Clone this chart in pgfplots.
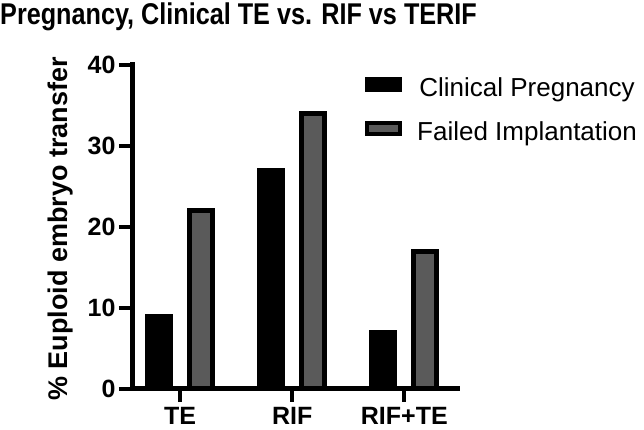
\documentclass[border=0pt]{standalone}
\usepackage{pgfplots}
\pgfplotsset{compat=1.18}
\usepackage{fontspec}
\setmainfont{Liberation Sans}
\definecolor{barGray}{HTML}{5A5A5A}
\begin{document}
\begin{tikzpicture}[x=1pt,y=1pt]
\path[use as bounding box] (0,0) rectangle (644,430);
\node[anchor=base west, inner sep=0pt] at (0,405) {\scalebox{0.84}[1]{\fontsize{30}{30}\selectfont\bfseries Pregnancy, Clinical TE vs. RIF vs TERIF}};
\begin{axis}[
  at={(132pt,41pt)}, anchor=south west,
  scale only axis, width=325pt, height=324pt,
  axis x line=bottom, axis y line=left,
  axis line style={-, line width=5pt, line cap=rect},
  xmin=-0.43, xmax=2.47, ymin=0, ymax=40,
  xtick={0,1,2}, xticklabels={TE,RIF,RIF+TE},
  ytick={0,10,20,30,40},
  major tick length=13pt,
  tick style={line width=4pt, black},
  tick align=outside,
  /pgf/number format/assume math mode=true,
  ticklabel style={font=\fontsize{25}{25}\selectfont\bfseries},
  xticklabel style={yshift=-2pt},
  yticklabel style={xshift=0pt},
  ylabel={\% Euploid embryo transfer},
  every axis y label/.style={at={(rel axis cs:0,0.5)}, xshift=-71pt, yshift=-2pt, rotate=90, anchor=center, font=\fontsize{27}{27}\selectfont\bfseries},
  ybar, bar width=23pt,
  legend style={draw=none, fill=none, inner sep=0pt, anchor=west,
     at={(rel axis cs:0.717,0.855)},
     nodes={inner sep=0pt, text height=19pt, text depth=6pt, font=\fontsize{26}{26}\selectfont},
     row sep=19pt,
     /tikz/every odd column/.style={column sep=15pt}},
  legend image code/.code={\draw[#1, line width=4pt] (2pt,0pt) rectangle (35pt,11pt);},
]
\addplot[fill=black, draw=black, line width=5pt, bar shift=-21pt] coordinates {(0,9) (1,27) (2,7)};
\addplot[fill=barGray, draw=black, line width=5pt, bar shift=21pt] coordinates {(0,22) (1,34) (2,17)};
\legend{Clinical Pregnancy, Failed Implantation}
\end{axis}
\end{tikzpicture}
\end{document}
